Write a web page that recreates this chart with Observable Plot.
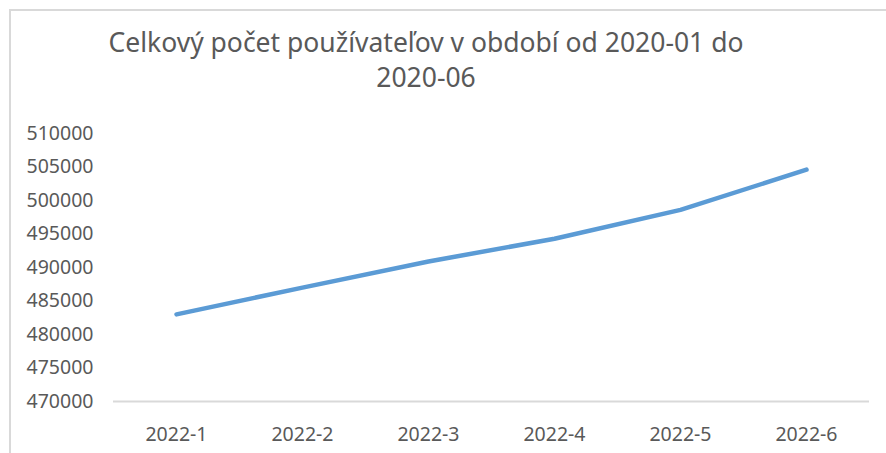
<!DOCTYPE html>
<html>
<head>
<meta charset="utf-8">
<script src="https://cdn.jsdelivr.net/npm/d3@7"></script>
<script src="https://cdn.jsdelivr.net/npm/@observablehq/plot@0.6"></script>
<style>
  html, body { margin: 0; padding: 0; background: #fff; }
  #wrap { position: relative; width: 886px; height: 453px; overflow: hidden; background: #fff; }
  #frame { position: absolute; left: 9px; top: 9px; width: 900px; height: 500px; z-index: 2; pointer-events: none;
           border-top: 2px solid #d9d9d9; border-left: 2px solid #d9d9d9; box-sizing: border-box; }
  #title { position: absolute; left: 0; top: 25px; width: 852px; text-align: center;
           font-family: "Noto Sans", sans-serif; font-size: 26.5px; line-height: 35px; color: #595959; }
  #chart { position: absolute; left: 0; top: 110px; }
</style>
</head>
<body>
<div id="wrap">
  <div id="frame"></div>
  <div id="title">Celkový počet používateľov v období od 2020-01 do<br>2020-06</div>
  <div id="chart"></div>
</div>
<script>
const months = ["2022-1", "2022-2", "2022-3", "2022-4", "2022-5", "2022-6"];
const users = [483000, 487000, 490900, 494300, 498600, 504600];
const yTicks = [470000, 475000, 480000, 485000, 490000, 495000, 500000, 505000, 510000];

const data = months.map((m, i) => ({month: m, users: users[i]}));

const chart = Plot.plot({
  width: 886,
  height: 343,
  marginLeft: 113,
  marginRight: 17,
  marginTop: 23,
  marginBottom: 52,
  style: {fontFamily: "'Noto Sans', sans-serif", fontSize: "19.5px", color: "#595959", background: "transparent"},
  x: {type: "point", domain: months, padding: 0.5, label: null},
  y: {domain: [470000, 510000], label: null},
  marks: [
    Plot.ruleY([470000], {stroke: "#d9d9d9", strokeWidth: 2}),
    Plot.axisY({ticks: yTicks, tickSize: 0, tickPadding: 20, tickFormat: d => String(d), fill: "#595959", fontSize: "19.5px"}),
    Plot.axisX({tickSize: 0, tickPadding: 26, fill: "#595959", fontSize: "19.5px"}),
    Plot.line(data, {x: "month", y: "users", stroke: "#5b9bd5", strokeWidth: 4.5, strokeLinecap: "round", strokeLinejoin: "round"})
  ]
});
document.getElementById("chart").appendChild(chart);
</script>
</body>
</html>
